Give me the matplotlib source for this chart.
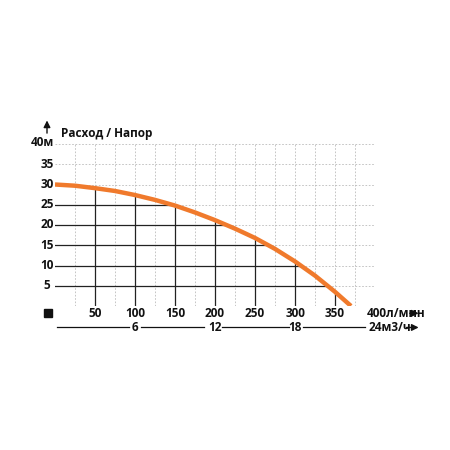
import numpy as np
import matplotlib
matplotlib.use("Agg")
import matplotlib.pyplot as plt

plt.rcParams['font.family'] = ['Open Sans', 'DejaVu Sans']

# curve: flow (l/min) vs head (m)
flow = [0, 25, 50, 75, 100, 125, 150, 175, 200, 225, 250, 275, 300, 325, 350, 370]
head = [30, 29.7, 29.1, 28.4, 27.4, 26.2, 24.8, 23.1, 21.2, 19.1, 16.8, 14.1, 11.0, 7.5, 3.5, 0]
x_ticks = [50, 100, 150, 200, 250, 300, 350]
y_ticks = [5, 10, 15, 20, 25, 30, 35]
m3_ticks = [6, 12, 18]

W = 450
fig = plt.figure(figsize=(4.5, 4.5), dpi=100)
ax = fig.add_axes([55 / W, (450 - 306) / W, 320 / W, 162 / W])
ax.set_xlim(0, 400)
ax.set_ylim(0, 40)
ax.axis('off')

# light dashed grid
for gx in np.arange(25, 401, 25):
    ax.plot([gx, gx], [0, 40], color='#bbbbbb', lw=0.6, ls=(0, (2, 2)), zorder=1)
for gy in np.arange(5, 40.1, 5):
    ax.plot([0, 400], [gy, gy], color='#bbbbbb', lw=0.6, ls=(0, (2, 2)), zorder=1)

# dark lines under the curve
for gx in x_ticks:
    ax.plot([gx, gx], [0, np.interp(gx, flow, head)], color='#222222', lw=0.9, zorder=2)
for gy in y_ticks:
    if gy < 30:
        xe = np.interp(-gy, [-h for h in head], flow)
        ax.plot([0, xe], [gy, gy], color='#222222', lw=0.9, zorder=2)

ax.plot(flow, head, color='#f07a2c', lw=3.2, solid_capstyle='butt', zorder=3)

bold = dict(fontweight='bold', fontsize=8.5, color='#111111')
y1 = -1.8
for v in x_ticks:
    ax.text(v, y1, str(v), ha='center', va='center', clip_on=False, **bold)
ax.text(390, y1, "400л/мин", ha='left', va='center', clip_on=False, **bold)
for v in y_ticks:
    ax.text(-10, v, str(v), ha='center', va='center', clip_on=False, **bold)
ax.text(-1, 40.3, "40м", ha='right', va='center', clip_on=False, **bold)
ax.text(8, 42.5, "Расход / Напор", ha='left', va='center', clip_on=False, **bold)
ax.annotate('', xy=(-10, 46.5), xytext=(-10, 42), annotation_clip=False,
            arrowprops=dict(arrowstyle='-|>', color='#111111', lw=1))
ax.plot([-9], [y1], marker='s', ms=6, color='#111111', clip_on=False)
ax.annotate('', xy=(458, y1), xytext=(440, y1), annotation_clip=False,
            arrowprops=dict(arrowstyle='-|>', color='#111111', lw=1))

yb = -5.3
for v in m3_ticks:
    ax.text(v * 100 / 6, yb, str(v), ha='center', va='center', clip_on=False, **bold)
segs = [(2, 92), (108, 186), (209, 292), (310, 388)]
for a, b in segs:
    ax.plot([a, b], [yb, yb], color='#111111', lw=0.9, clip_on=False)
ax.text(392, yb, "24м3/ч", ha='left', va='center', clip_on=False, **bold)
ax.annotate('', xy=(458, yb), xytext=(436, yb), annotation_clip=False,
            arrowprops=dict(arrowstyle='-|>', color='#111111', lw=1))

fig.savefig("out.png", dpi=100)
